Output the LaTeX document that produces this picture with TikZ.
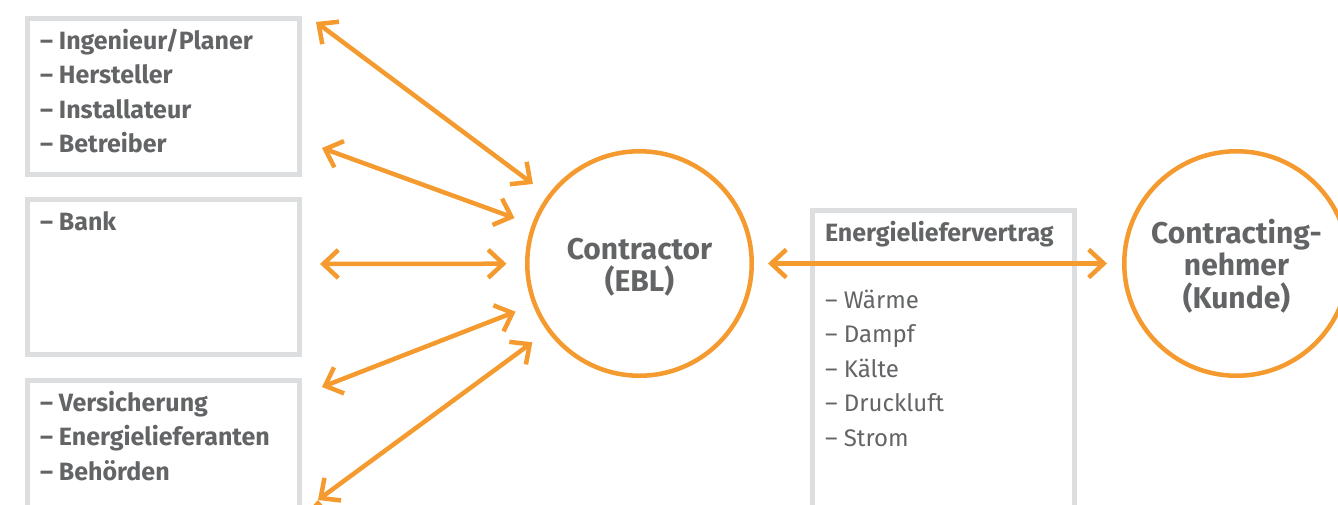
\documentclass[tikz,border=0pt]{standalone}
\usepackage{fontspec}
\setmainfont{Fira Sans}
\usetikzlibrary{arrows.meta, positioning}

\definecolor{ebOrange}{RGB}{244,154,46}
\definecolor{ebText}{RGB}{99,100,102}
\definecolor{ebBox}{RGB}{221,222,224}

% top-aligned text block of fixed height inside a box
\newcommand{\boxlist}[3]{\parbox[t][#1][t]{#2}{\raggedright\rule{0pt}{21pt}#3}}

\begin{document}
\begin{tikzpicture}[x=1pt, y=-1pt, >={Straight Barb[length=15pt,width=28pt]},
    listbox/.style={draw=ebBox, line width=5pt, inner xsep=12.5pt, inner ysep=9.5pt,
                    anchor=north west, text=ebText, font=\fontsize{25}{34.5}\selectfont},
    party/.style={circle, draw=ebOrange, line width=4.5pt, minimum size=224.5pt, inner sep=0pt,
                  text=ebText, align=center, font=\fontsize{30}{32.5}\selectfont\bfseries},
    link/.style={<->, draw=ebOrange, line width=4.5pt}]

   \useasboundingbox (0,0) rectangle (1338,504);
   \clip (0,0) rectangle (1338,504);

   % Nodes
      \node[listbox]  (planer)   at (25,16)   {\boxlist{137pt}{247pt}{\bfseries
                                                 – Ingenieur/Planer\\ – Hersteller\\
                                                 – Installateur\\ – Betreiber}};
      \node[listbox]  (bank)     at (25,197)  {\boxlist{136pt}{247pt}{\bfseries – Bank}};
      \node[listbox]  (behoerde) at (25,378)  {\boxlist{136pt}{247pt}{\bfseries
                                                 – Versicherung\\ – Energielieferanten\\
                                                 – Behörden}};
      \node[listbox]  (vertrag)  at (810,208) {\boxlist{300pt}{237pt}{\textbf{Energieliefervertrag}\\[32.5pt]
                                                 \fontsize{24}{34.5}\selectfont
                                                 – Wärme\\ – Dampf\\ – Kälte\\
                                                 – Druckluft\\ – Strom}};

      \node[party]    (ebl)      at (639.5,263.5)  {\rule{0pt}{29pt}Contractor\\(EBL)};
      \node[party]    (kunde)    at (1236.5,263.5) {\rule{0pt}{29pt}Contracting-\\nehmer\\(Kunde)};

      \coordinate (a1) at (316,22);
      \coordinate (a2) at (322,148);
      \coordinate (a3) at (320,264);
      \coordinate (a4) at (322,387);
      \coordinate (a5) at (318,500);

   % Paths
      \path[link, shorten >=18.5pt] (a1) edge (ebl)
                                    (a2) edge (ebl)
                                    (a3) edge (ebl)
                                    (a4) edge (ebl)
                                    (a5) edge (ebl);
      \path[link] (ebl) edge [shorten <=14pt, shorten >=15pt] (kunde);
   \end{tikzpicture}
\end{document}
